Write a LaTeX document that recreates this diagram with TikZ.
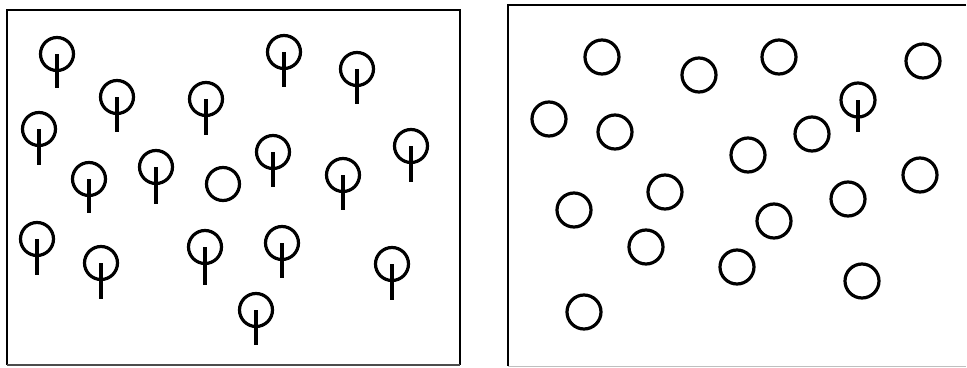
\documentclass[tikz,border=0pt]{standalone}
\begin{document}
\begin{tikzpicture}[x=1pt,y=-1pt,
  crown/.style={draw=black,line width=3.2pt},
  trunk/.style={draw=black,line width=3.6pt},
  frame/.style={draw=black,line width=2pt}]
\useasboundingbox (0,0) rectangle (967,367);
\fill[white] (0,0) rectangle (967,367);
% left frame
\draw[frame] (7,365) -- (7,10) -- (460,10) -- (460,365);
\draw[draw=black!70,line width=1.2pt] (7,365) -- (460,365);
% right frame (top and left edges, faint bottom)
\draw[frame] (966,5) -- (508,5) -- (508,366);
\draw[draw=black!25,line width=1pt] (508,366) -- (966,366);
% left panel: trees (center x, center y, stem bottom)
\foreach \x/\y/\s in {57/54/88, 117/97/132, 206/99/135, 284/52/87, 357/69/104,
  39/129/165, 89/179/213, 156/167/204, 273/152/187, 343/175/210, 411/146/182,
  37/239/275, 101/263/299, 205/247/285, 282/243/278, 392/264/300, 256/310/345}{
  \draw[crown] (\x,\y) circle[radius=16.5];
  \draw[trunk] (\x,\y) -- (\x,\s);
}
\draw[crown] (223,184) circle[radius=16.5];
% right panel: circles
\foreach \x/\y in {602/57, 699/75, 779/57, 923/61, 549/119, 615/132, 812/134,
  748/155, 665/192, 574/210, 920/175, 848/199, 774/221, 646/247, 737/267,
  862/281, 584/312}{
  \draw[crown] (\x,\y) circle[radius=17];
}
\draw[crown] (858,100) circle[radius=17];
\draw[trunk] (858,100) -- (858,132);
\end{tikzpicture}
\end{document}
